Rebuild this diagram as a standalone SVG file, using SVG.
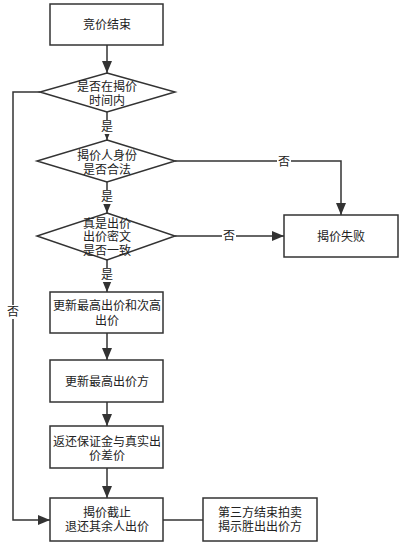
<svg xmlns="http://www.w3.org/2000/svg" width="405" height="546" viewBox="0 0 405 546">
<style>
.n{fill:#fff;stroke:#333;stroke-width:1.5}
.t{font-family:"Liberation Sans","Noto Sans CJK SC",sans-serif;font-size:12px;fill:#222;text-anchor:middle;dominant-baseline:central}
.c{fill:none;stroke:#333;stroke-width:1.5}
.lb{fill:#fff}
</style>
<defs>
<marker id="ah" markerUnits="userSpaceOnUse" markerWidth="12" markerHeight="10" refX="12" refY="5" orient="auto">
<path d="M0,0 L12,5 L0,10 z" fill="#333"/>
</marker>
</defs>
<rect width="405" height="546" fill="#fff"/>
<g id="connectors">
<path class="c" d="M107,45 V73" marker-end="url(#ah)"/>
<path class="c" d="M107,112 V140" marker-end="url(#ah)"/>
<path class="c" d="M107,182 V213" marker-end="url(#ah)"/>
<path class="c" d="M107,260 V292" marker-end="url(#ah)"/>
<path class="c" d="M107,333 V360" marker-end="url(#ah)"/>
<path class="c" d="M107,402 V426" marker-end="url(#ah)"/>
<path class="c" d="M107,468 V498" marker-end="url(#ah)"/>
<path class="c" d="M175,161 H341 V215" marker-end="url(#ah)"/>
<path class="c" d="M175,236 H284" marker-end="url(#ah)"/>
<path class="c" d="M40,92 H13 V520 H50" marker-end="url(#ah)"/>
<path class="c" d="M163,520 H203"/>
<rect class="lb" x="101" y="120" width="12" height="14"/>
<text class="t" x="107" y="127">是</text>
<rect class="lb" x="101" y="190" width="12" height="14"/>
<text class="t" x="107" y="197">是</text>
<rect class="lb" x="101" y="268" width="12" height="14"/>
<text class="t" x="107" y="275">是</text>
<rect class="lb" x="277" y="155" width="14" height="14"/>
<text class="t" x="284" y="162">否</text>
<rect class="lb" x="222" y="229" width="14" height="14"/>
<text class="t" x="229" y="236">否</text>
<rect class="lb" x="7" y="305" width="12" height="14"/>
<text class="t" x="13" y="312">否</text>
</g>
<g id="start">
<rect class="n" x="50" y="4" width="113" height="41"/>
<text class="t" x="107" y="25">竞价结束</text>
</g>
<g id="d1">
<path class="n" d="M107,73 L175,92 L107,112 L40,92 z"/>
<text class="t" x="107" y="87">是否在揭价</text>
<text class="t" x="107" y="101">时间内</text>
</g>
<g id="d2">
<path class="n" d="M107,140 L175,161 L107,182 L37,161 z"/>
<text class="t" x="107" y="156">揭价人身份</text>
<text class="t" x="107" y="170">是否合法</text>
</g>
<g id="d3">
<path class="n" d="M107,213 L175,236 L107,260 L37,236 z"/>
<text class="t" x="107" y="224">真是出价</text>
<text class="t" x="107" y="237">出价密文</text>
<text class="t" x="107" y="251">是否一致</text>
</g>
<g id="fail">
<rect class="n" x="284" y="215" width="114" height="42"/>
<text class="t" x="341" y="237">揭价失败</text>
</g>
<g id="b2">
<rect class="n" x="50" y="292" width="113" height="41"/>
<text class="t" x="107" y="306">更新最高出价和次高</text>
<text class="t" x="107" y="321">出价</text>
</g>
<g id="b3">
<rect class="n" x="50" y="360" width="113" height="42"/>
<text class="t" x="107" y="382">更新最高出价方</text>
</g>
<g id="b4">
<rect class="n" x="50" y="426" width="113" height="42"/>
<text class="t" x="107" y="442">返还保证金与真实出</text>
<text class="t" x="107" y="456">价差价</text>
</g>
<g id="b5">
<rect class="n" x="50" y="498" width="113" height="43"/>
<text class="t" x="107" y="513">揭价截止</text>
<text class="t" x="107" y="527">退还其余人出价</text>
</g>
<g id="b6">
<rect class="n" x="203" y="498" width="114" height="43"/>
<text class="t" x="260" y="513">第三方结束拍卖</text>
<text class="t" x="260" y="527">揭示胜出出价方</text>
</g>
</svg>
